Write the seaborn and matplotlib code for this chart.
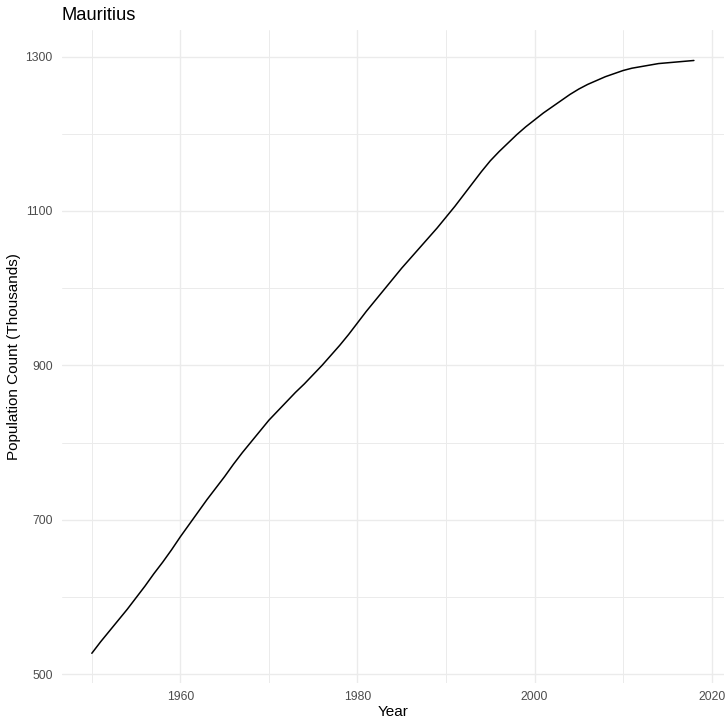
import pandas as pd
import numpy as np
import seaborn as sns
import matplotlib.pyplot as plt
from matplotlib.ticker import MultipleLocator, FixedLocator

years = list(range(1950, 2019))
population = [527, 542, 556, 570, 584, 599, 614, 630, 645, 661,
              678, 694, 710, 726, 741, 756, 772, 787, 801, 815,
              829, 841, 853, 865, 876, 888, 900, 913, 926, 940,
              955, 970, 984, 998, 1012, 1026, 1039, 1052, 1065, 1078,
              1092, 1106, 1121, 1136, 1151, 1165, 1177, 1188, 1199, 1209,
              1218, 1227, 1235, 1243, 1251, 1258, 1264, 1269, 1274, 1278,
              1282, 1285, 1287, 1289, 1291, 1292, 1293, 1294, 1295]
y_major = [500, 700, 900, 1100, 1300]
y_minor = [600, 800, 1000, 1200]

df = pd.DataFrame({"Year": years, "Population": population})

sns.set_theme(style="white")
plt.rcParams['font.family'] = ['Liberation Sans', 'DejaVu Sans']

fig = plt.figure(figsize=(7.27, 7.21), dpi=100)
ax = fig.add_axes([0.0849, 0.0527, 0.911, 0.9057])

sns.lineplot(data=df, x="Year", y="Population", color="black", linewidth=1.1, ax=ax)

ax.set_xlim(1946.6, 2021.4)
ax.set_ylim(488.5, 1334.5)
ax.xaxis.set_major_locator(MultipleLocator(20))
ax.xaxis.set_minor_locator(MultipleLocator(10))
ax.yaxis.set_major_locator(FixedLocator(y_major))
ax.yaxis.set_minor_locator(FixedLocator(y_minor))

ax.grid(which="major", color="#EBEBEB", linewidth=1.0)
ax.grid(which="minor", color="#EBEBEB", linewidth=0.7)
ax.set_axisbelow(True)
for s in ax.spines.values():
    s.set_visible(False)
ax.tick_params(which="both", length=0)
ax.tick_params(axis="x", pad=6, labelsize=8.8, labelcolor="#4D4D4D")
ax.tick_params(axis="y", pad=6.5, labelsize=8.8, labelcolor="#4D4D4D")

ax.set_xlabel("Year", fontsize=11, color="black", labelpad=1)
ax.set_ylabel("Population Count (Thousands)", fontsize=11, color="black", labelpad=3)
ax.set_title("Mauritius", fontsize=13.2, loc="left", color="black", pad=7)

fig.savefig("out.png", dpi=100)
